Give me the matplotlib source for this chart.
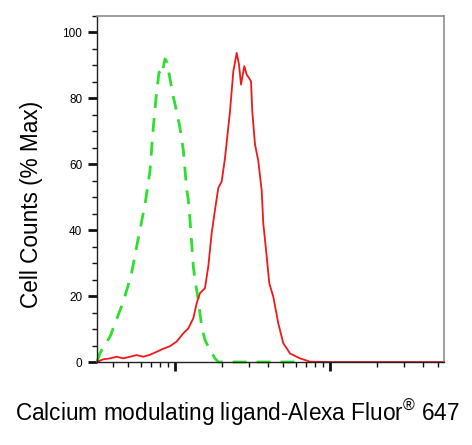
import numpy as np
import matplotlib.pyplot as plt
from matplotlib.ticker import LogLocator, NullFormatter, MultipleLocator

plt.rcParams['font.family'] = ['Liberation Sans', 'DejaVu Sans']
plt.rcParams['mathtext.fontset'] = 'custom'
plt.rcParams['mathtext.rm'] = 'Liberation Sans'

# isotype control (green dashed)
iso_x = [314, 328, 381, 464, 522, 580, 640, 690, 721, 754, 789, 821, 862, 888,
         928, 971, 1046, 1077, 1131, 1190, 1219, 1250, 1281, 1313, 1346, 1414,
         1487, 1561, 1682, 1812, 1903, 6406]
iso_y = [0, 2.7, 7.7, 18.3, 26.4, 37.6, 47.7, 58, 70, 80, 88, 87, 92, 91,
         86, 81, 74, 71, 64.4, 52.3, 49.2, 43.2, 36.1, 29, 24.9, 18.8,
         10.7, 6.7, 3.6, 1.1, 0, 0]

# Calcium modulating ligand stained (red solid)
cml_x = [314, 343, 381, 421, 464, 513, 566, 625, 690, 762, 837, 928, 1025,
         1131, 1219, 1313, 1380, 1450, 1561, 1640, 1725, 1812, 1903, 2001,
         2102, 2263, 2378, 2501, 2587, 2666, 2800, 2901, 3002, 3093, 3153,
         3282, 3447, 3625, 3712, 3905, 4058, 4307, 4640, 4996, 5520, 6406,
         7430, 10000, 54300]
cml_y = [0, 0.8, 1.1, 1.6, 1.1, 1.6, 2.1, 1.6, 2.2, 3.1, 4.0, 4.8, 6.2,
         8.7, 10.2, 13.3, 17.8, 20.9, 22.4, 29, 39.1, 46.2, 52.8, 54.8,
         61.9, 76, 88.2, 93.8, 90.3, 84.2, 89.8, 87.2, 86.2, 85.2, 76,
         66, 61, 52, 42.1, 32, 23.9, 19.8, 11.7, 5.7, 2.6, 1.1,
         0.1, 0, 0]

fig = plt.figure(figsize=(4.72, 4.45), dpi=100)
ax = fig.add_axes([0.2055, 0.1865, 0.735, 0.7775])

ax.plot(iso_x, iso_y, color='#2ee02e', lw=2, dashes=(5, 3.6), clip_on=False)
ax.plot(cml_x, cml_y, color='#f01818', lw=1.3, clip_on=False)

ax.set_xscale('log')
ax.set_xlim(314, 54300)
ax.set_ylim(0, 105)

ax.xaxis.set_major_locator(LogLocator(base=10, numticks=10))
ax.xaxis.set_minor_locator(LogLocator(base=10, subs=np.arange(2, 10), numticks=20))
ax.xaxis.set_major_formatter(NullFormatter())
ax.xaxis.set_minor_formatter(NullFormatter())
ax.yaxis.set_major_locator(MultipleLocator(20))
ax.yaxis.set_minor_locator(MultipleLocator(5))

ax.tick_params(axis='both', which='major', direction='out', length=6.5, width=2, color='#111111')
ax.tick_params(axis='both', which='minor', direction='out', length=3.5, width=1, color='#111111')
ax.tick_params(axis='y', which='major', labelsize=8.5, pad=4)

for s in ['top', 'right']:
    ax.spines[s].set_color('#8c8c8c')
    ax.spines[s].set_linewidth(1.2)
for s in ['left', 'bottom']:
    ax.spines[s].set_color('#222222')
    ax.spines[s].set_linewidth(1.0)

fig.text(0.0657, 0.5416, 'Cell Counts (% Max)', fontsize=16.3,
         rotation=90, ha='center', va='center')
fig.text(0.503, 0.072, 'Calcium modulating ligand-Alexa Fluor$^{®}$ 647',
         fontsize=16.3, ha='center', va='center')

fig.savefig('out.png', dpi=100)
